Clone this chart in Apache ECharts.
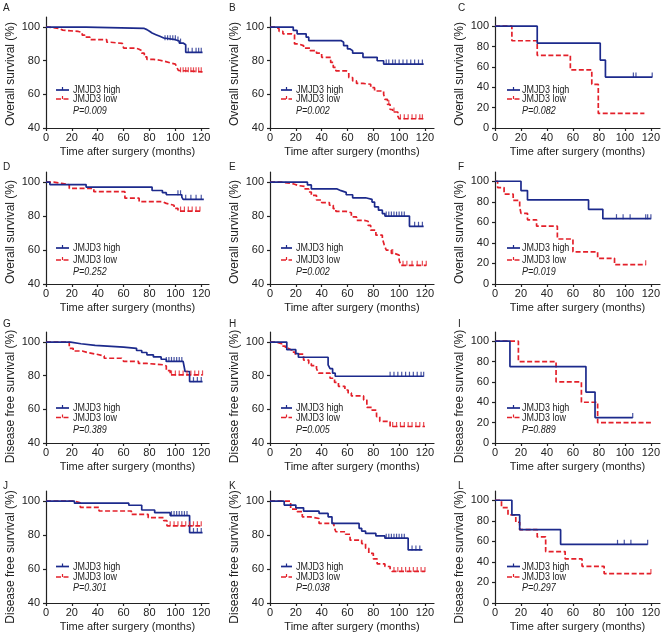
<!DOCTYPE html>
<html><head><meta charset="utf-8">
<script src="https://cdn.jsdelivr.net/npm/echarts@6/dist/echarts.min.js"></script>
<style>html,body{margin:0;padding:0;background:#fff}#c{width:671px;height:638px}</style>
</head><body><div id="c"></div><script>
// ---------- text / ticks ----------
const panelLetters = ['A','B','C','D','E','F','G','H','I','J','K','L'];
const pValues = ['P=0.009','P=0.002','P=0.082','P=0.252','P=0.002','P=0.019','P=0.389','P=0.005','P=0.889','P=0.301','P=0.038','P=0.297'];
const yTitles = ['Overall survival (%)','Overall survival (%)','Disease free survival (%)','Disease free survival (%)'];
const xTitle = 'Time after surgery (months)';
const legendNames = ['JMJD3 high','JMJD3 low'];
const xTicks = [0,20,40,60,80,100,120];
const yTicks40 = [40,60,80,100];
const yTicks0 = [0,20,40,60,80,100];

// ---------- survival curves [month, %] ----------
const A_high = [[0,100],[31,99.2],[76,98.5],[78,97.5],[80,96.5],[82,95.5],[85,94.5],[88,93.5],[91,92.5],[100,92.5],[101,91.7],[103,90.5],[106,89.5],[108,85],[121,85]];
const A_low = [[0,100],[2,99.2],[10,98.2],[13,97.4],[25,96.8],[28,95.2],[30,94],[34,92.5],[47,91],[50,90.3],[59,89.6],[60,87.5],[69,87],[71.5,86],[74,84.5],[76,82.3],[78,80.8],[83,80.3],[88,79.6],[92,78.5],[97,78],[100,77.6],[101,76.3],[102.3,74.2],[103.6,73.4],[121,73.4]];
const B_high = [[0,100],[18,98],[21,96],[28,94],[30,92],[55,91],[57,89],[60,87],[62,86],[64,84.5],[72,82],[83,80],[88,78],[119,78]];
const B_low = [[0,100],[4,99],[7,97.5],[10,96],[17,95.5],[19,90],[22,89],[26,87.5],[31,86],[36,84.5],[40,82],[47,79],[49,76],[51,74],[59,73],[61,70],[64,68],[67,66.5],[72,66],[78,64],[81,62],[88,60],[89,57],[91,54],[93,51],[95,49.5],[99,47],[100,45.5],[119,45.5]];
const C_high = [[0,100],[32.5,83.3],[81,66.7],[85,50],[121,50]];
const C_low = [[0,100],[13,85.7],[32.5,71.4],[58,57.1],[74.5,42.9],[79.5,14.3],[115,14.3]];
const D_high = [[0,100],[3,98.6],[31,97.1],[82,95.1],[90,93.8],[93,92.6],[105,91.2],[106,89.9],[122,89.9]];
const D_low = [[0,100],[6,99.3],[12,98.5],[18,96.3],[37,94.4],[61,90.6],[72,88.5],[90,87.5],[93,86.4],[99,84.6],[102,83],[120,83]];
const E_high = [[0,100],[29,98.4],[32,96],[52,95],[55,94],[59,92.6],[64,90.8],[74,89.9],[79,88.3],[81,85.5],[84,83.5],[87,81.5],[89,80],[108,74],[119,74]];
const E_low = [[0,100],[9,99.4],[16,98.8],[19,98],[22,97.5],[27,96],[30,94.2],[32,92.2],[36,89.5],[40,88],[46,86.4],[49,84.4],[51,82.8],[59,82],[63,79.5],[67,77.5],[73,77],[76,74.5],[78,71.7],[82,68.8],[87,66.9],[88.5,63],[90,60],[94,58],[96.5,57],[100,54],[101.5,51],[121,51]];
const F_high = [[0,100],[20,90.9],[25,81.8],[72,72.7],[83,63.6],[120,63.6]];
const F_low = [[0,100],[2,93.8],[7,87.5],[14,81.3],[19,75],[20,68.8],[25,62.5],[32,56.3],[48,43.8],[60,31.3],[79,25],[92,18.8],[116,18.8]];
const G_high = [[0,100],[19,99],[27,98],[38,97],[60,96.3],[70,95],[74,93.8],[78,92.4],[83,91.2],[89,89.8],[93,88.5],[106,87.8],[107.5,82.5],[111,76.5],[121,76.5]];
const G_low = [[0,100],[18,96.3],[21,94.7],[28,93.8],[32,92.8],[39,91.8],[45,90.4],[58.5,89.3],[60,88.5],[71.5,87.3],[78,86.5],[91,85.8],[93,83],[96,80.5],[121,80.5]];
const H_high = [[0,100],[13,95.5],[20,93.2],[22,91],[45,86.5],[46.5,84.2],[48.5,81.5],[50.5,79.7],[119,79.7]];
const H_low = [[0,100],[5,99],[9,97.6],[12,96.3],[14,95.2],[17,94],[19.5,92.8],[26,89.3],[30,87.2],[32,86],[36,84.3],[37.5,81.5],[46.5,78.5],[50,76],[53,73.7],[58,71.5],[60.5,69.8],[63,68],[72.5,65.6],[75,61.2],[79,59.5],[82.5,55.7],[85,52.9],[93,49.8],[120,49.8]];
const I_high = [[0,100],[11.5,75],[70,50],[77,25],[106,25]];
const I_low = [[0,100],[18,80],[47,60],[66.5,40],[79,20],[120,20]];
const J_high = [[0,100],[22,98.8],[64,97.6],[74,94.8],[84,93.2],[96,91.5],[111,81.5],[121,81.5]];
const J_low = [[0,100],[22.5,99],[26.5,96.4],[41,94.2],[66,92.2],[79,90.3],[91,88.5],[93.5,85.5],[121,85.5]];
const K_high = [[0,100],[11,97.7],[20,96.1],[26,94.1],[38,92.8],[45,90.8],[48,86.9],[69,84],[71,82.4],[74,81],[82,79.5],[89,78.2],[107,71.3],[118,71.3]];
const K_low = [[0,100],[16,95.3],[21,93.8],[25,90.8],[31,89.8],[38,86.9],[49.5,85],[51,82],[58.5,80.5],[62,77],[71,75],[74,72.3],[76.5,69.3],[80,66],[83,63],[89,61.5],[93,59.8],[94.5,58.6],[120,58.6]];
const L_high = [[0,100],[13,85.7],[19,71.4],[50.5,57.1],[117.5,57.1]];
const L_low = [[0,100],[5,92.9],[10,85.7],[16,78.6],[19,71.4],[32.5,64.3],[39,50],[54,42.9],[67,35.7],[84,28.6],[120,28.6]];

// ---------- censoring times (months) ----------
const A_high_cens = [92,94,96,98,100,102,104,110,113,116,118,120];
const A_low_cens = [104,106,108,110,112,114,116,118,120];
const B_high_cens = [90,92,95,97,100,103,106,109,112,115,118];
const B_low_cens = [92,96,101,104,107,110,113,116,118];
const C_high_cens = [106.5,108.5,121];
const C_low_cens = [];
const D_high_cens = [102,104,108,112,116,120];
const D_low_cens = [104,107,110,113,116,119];
const E_high_cens = [90,92,94,96,98,100,102,104,112,115,118];
const E_low_cens = [95,103,106,110,114,118,121];
const F_high_cens = [93.5,98.6,104,116,117.5,120];
const F_low_cens = [116];
const G_high_cens = [93,95,97,99,101,103,105,114,117,120];
const G_low_cens = [97,100,103,106,109,112,115,118,121];
const H_high_cens = [93,96,99,102,105,108,111,114,117,119];
const H_low_cens = [95,98,101,104,107,110,113,116,119];
const I_high_cens = [106];
const I_low_cens = [];
const J_high_cens = [97,99,101,103,105,107,109,114,117,120];
const J_low_cens = [96,99,102,105,108,111,114,117,120];
const K_high_cens = [90,92,94,96,98,100,102,104,110,113,116];
const K_low_cens = [96,99,102,105,108,111,114,117,120];
const L_high_cens = [94.3,99.5,104.6,117.5];
const L_low_cens = [120];

const curves = [
  [A_high,A_low,A_high_cens,A_low_cens],[B_high,B_low,B_high_cens,B_low_cens],[C_high,C_low,C_high_cens,C_low_cens],
  [D_high,D_low,D_high_cens,D_low_cens],[E_high,E_low,E_high_cens,E_low_cens],[F_high,F_low,F_high_cens,F_low_cens],
  [G_high,G_low,G_high_cens,G_low_cens],[H_high,H_low,H_high_cens,H_low_cens],[I_high,I_low,I_high_cens,I_low_cens],
  [J_high,J_low,J_high_cens,J_low_cens],[K_high,K_low,K_high_cens,K_low_cens],[L_high,L_low,L_high_cens,L_low_cens]
];
const fullScale = [false,false,true,false,false,true,false,false,true,false,false,true];

// ---------- layout ----------
const colLeft = [46,270,495], colWidth = [163,164,165], colXMax = [126,127,127];
const rowTop = [17,172,332,491], rowHeight = [111,112,111,112];
const rowTitleShift = [3, 8, 18, 20];
const legendY = [[90,99,110.5],[248,260,271.3],[408,417.5,429.3],[566.5,577,588]];
const legendLineX = [[56,69],[281,292],[507,520]];
const legendTextX = [73,296,522];
const letterX = [3,229,458];
const letterY = [8.5,167,324.5,486];

const BLUE = '#1c2a8c', RED = '#e3202a', AX = '#222';
const FONT = "'Liberation Sans', Arial, sans-serif";

function survAt(curve, t){ let v = curve[0][1]; for (const p of curve){ if (p[0] <= t) v = p[1]; } return v; }

const grid = [], xAxis = [], yAxis = [], series = [], graphic = [];
curves.forEach((cv, i) => {
  const r = Math.floor(i/3), c = i % 3;
  grid.push({left: colLeft[c], top: rowTop[r], width: colWidth[c], height: rowHeight[r]});
  const axisCommon = {
    axisLine: {show: true, lineStyle: {color: AX, width: 1.2}},
    splitLine: {show: false}
  };
  xAxis.push(Object.assign({}, axisCommon, {
    gridIndex: i, type: 'value', min: 0, max: colXMax[c],
    axisTick: {show: true, length: 3, customValues: xTicks, lineStyle: {color: AX, width: 1.2}},
    axisLabel: {customValues: xTicks, fontSize: 11, color: AX, fontFamily: FONT, margin: 4},
    name: xTitle, nameLocation: 'middle', nameGap: 18,
    nameTextStyle: {color: AX, fontFamily: FONT, fontSize: 11}
  }));
  const yt = fullScale[i] ? yTicks0 : yTicks40;
  yAxis.push(Object.assign({}, axisCommon, {
    gridIndex: i, type: 'value', min: fullScale[i] ? 0 : 40, max: fullScale[i] ? 109 : 106,
    axisTick: {show: true, length: 3, customValues: yt, lineStyle: {color: AX, width: 1.2}},
    axisLabel: {customValues: yt, fontSize: 11, color: AX, fontFamily: FONT, margin: 6},
    name: yTitles[r], nameLocation: 'middle', nameGap: 29,
    nameTextStyle: {color: AX, fontFamily: FONT, fontSize: 12, padding: [0, rowTitleShift[r], 0, 0]}
  }));
  [[cv[0], BLUE, 'solid', cv[2]], [cv[1], RED, [5,2.5], cv[3]]].forEach((s, k) => {
    series.push({type: 'line', name: legendNames[k], xAxisIndex: i, yAxisIndex: i, data: s[0], step: 'end',
      symbol: 'none', lineStyle: {color: s[1], width: 1.7, type: s[2]}, animation: false, z: k ? 3 : 4});
    series.push({type: 'scatter', xAxisIndex: i, yAxisIndex: i, data: s[3].map(t => [t, survAt(s[0], t)]),
      symbol: 'rect', symbolSize: [1.2, 5], symbolOffset: [0, -2], itemStyle: {color: s[1]}, animation: false, z: 5});
  });
  // legend
  const ly = legendY[r], lx = legendLineX[c];
  const mid = (lx[0] + lx[1]) / 2;
  graphic.push({type: 'line', shape: {x1: lx[0], y1: ly[0], x2: lx[1], y2: ly[0]}, style: {stroke: BLUE, lineWidth: 1.7}});
  graphic.push({type: 'line', shape: {x1: mid, y1: ly[0] - 3, x2: mid, y2: ly[0]}, style: {stroke: BLUE, lineWidth: 1.2}});
  graphic.push({type: 'line', shape: {x1: lx[0], y1: ly[1], x2: lx[1], y2: ly[1]}, style: {stroke: RED, lineWidth: 1.7, lineDash: [5, 2.5]}});
  graphic.push({type: 'line', shape: {x1: mid, y1: ly[1] - 3, x2: mid, y2: ly[1]}, style: {stroke: RED, lineWidth: 1.2}});
  [legendNames[0], legendNames[1], pValues[i]].forEach((t, k) => {
    graphic.push({type: 'text', x: legendTextX[c], y: ly[k], scaleX: 0.78,
      style: {text: t, fill: AX, font: (k === 2 ? 'italic ' : '') + '11.5px ' + FONT, align: 'left', verticalAlign: 'middle'}});
  });
  graphic.push({type: 'text', x: letterX[c], y: letterY[r], style: {text: panelLetters[i], fill: AX, font: '10px ' + FONT, align: 'left', verticalAlign: 'middle'}});
});

const chart = echarts.init(document.getElementById('c'), null, {renderer: 'canvas'});
chart.setOption({animation: false, backgroundColor: '#fff', grid, xAxis, yAxis, series, graphic});
</script></body></html>
